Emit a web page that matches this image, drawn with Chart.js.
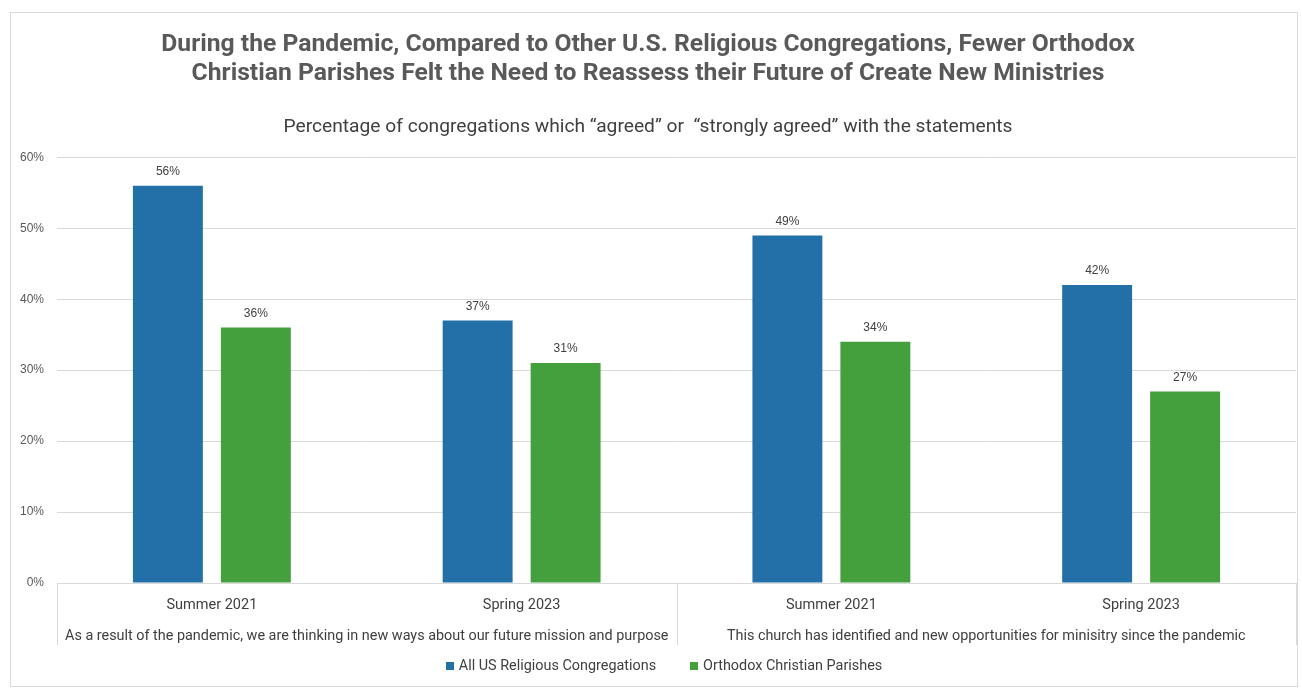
<!DOCTYPE html>
<html>
<head>
<meta charset="utf-8">
<title>Pandemic congregations chart</title>
<script src="https://cdn.jsdelivr.net/npm/chart.js@4.4.1/dist/chart.umd.min.js"></script>
<style>
  html, body { margin: 0; padding: 0; background: #fff; }
  canvas { display: block; }
</style>
</head>
<body>
<canvas id="chart" width="1302" height="689"></canvas>
<script>
const NARROW = 'Roboto, "Liberation Sans", sans-serif';
const REGULAR = '"Liberation Sans", Arial, sans-serif';

// chart data
const periods = ['Summer 2021', 'Spring 2023', 'Summer 2021', 'Spring 2023'];
const statements = [
  'As a result of the pandemic, we are thinking in new ways about our future mission and purpose',
  'This church has identified and new opportunities for minisitry since the pandemic'
];
const allUS = [56, 37, 49, 42];
const orthodox = [36, 31, 34, 27];
const yTicks = [0, 10, 20, 30, 40, 50, 60];

const titleLines = [
  'During the Pandemic, Compared to Other U.S. Religious Congregations, Fewer Orthodox',
  'Christian Parishes Felt the Need to Reassess their Future of Create New Ministries'
];
const subtitleText = 'Percentage of congregations which \u201cagreed\u201d or  \u201cstrongly agreed\u201d with the statements';

const GRID = '#d9d9d9';

// outer frame around the whole chart
const framePlugin = {
  id: 'frame',
  beforeDraw(chart) {
    const ctx = chart.ctx;
    ctx.save();
    ctx.fillStyle = '#fff';
    ctx.fillRect(0, 0, chart.width, chart.height);
    ctx.strokeStyle = GRID;
    ctx.lineWidth = 1;
    ctx.strokeRect(10.5, 12.5, 1287, 674);
    ctx.restore();
  }
};

// percentage labels above each bar
const valueLabels = {
  id: 'valueLabels',
  afterDatasetsDraw(chart) {
    const ctx = chart.ctx;
    ctx.save();
    ctx.font = '12px ' + REGULAR;
    ctx.fillStyle = '#404040';
    ctx.textAlign = 'center';
    ctx.textBaseline = 'bottom';
    chart.data.datasets.forEach((ds, i) => {
      chart.getDatasetMeta(i).data.forEach((bar, j) => {
        ctx.fillText(ds.data[j] + '%', bar.x, bar.y - 8);
      });
    });
    ctx.restore();
  }
};

// second level of the category axis: statement text and separators
const groupAxis = {
  id: 'groupAxis',
  afterDraw(chart) {
    const ctx = chart.ctx;
    const x = chart.scales.x;
    const top = chart.chartArea.bottom;
    const bottom = top + 62;
    const per = periods.length / statements.length;
    ctx.save();
    ctx.strokeStyle = GRID;
    ctx.lineWidth = 1;
    for (let g = 0; g <= statements.length; g++) {
      const px = Math.round(x.left + (x.right - x.left) * g / statements.length) + 0.5;
      ctx.beginPath();
      ctx.moveTo(px, top);
      ctx.lineTo(px, bottom);
      ctx.stroke();
    }
    ctx.font = '14.4px ' + NARROW;
    ctx.fillStyle = '#404040';
    ctx.textAlign = 'center';
    ctx.textBaseline = 'middle';
    statements.forEach((s, g) => {
      const a = x.getPixelForValue(g * per);
      const b = x.getPixelForValue(g * per + per - 1);
      ctx.fillText(s, (a + b) / 2, top + 53);
    });
    ctx.restore();
  }
};

// legend row under the axis, square swatches
const legendRow = {
  id: 'legendRow',
  afterDraw(chart) {
    const ctx = chart.ctx;
    const box = 8, gap = 5, spacing = 34, cx = 664, cy = 666;
    ctx.save();
    ctx.font = '14.4px ' + NARROW;
    ctx.textBaseline = 'middle';
    ctx.textAlign = 'left';
    const items = chart.data.datasets.map(ds => ({
      text: ds.label,
      color: ds.backgroundColor,
      w: box + gap + ctx.measureText(ds.label).width
    }));
    const total = items.reduce((s, it) => s + it.w, 0) + spacing * (items.length - 1);
    let x = cx - total / 2;
    items.forEach(it => {
      ctx.fillStyle = it.color;
      ctx.fillRect(Math.round(x), cy - box / 2, box, box);
      ctx.fillStyle = '#404040';
      ctx.fillText(it.text, x + box + gap, cy);
      x += it.w + spacing;
    });
    ctx.restore();
  }
};

new Chart(document.getElementById('chart'), {
  type: 'bar',
  data: {
    labels: periods,
    datasets: [
      {
        label: 'All US Religious Congregations',
        data: allUS,
        backgroundColor: '#2370a9',
        categoryPercentage: 0.568,
        barPercentage: 0.795
      },
      {
        label: 'Orthodox Christian Parishes',
        data: orthodox,
        backgroundColor: '#43a03c',
        categoryPercentage: 0.568,
        barPercentage: 0.795
      }
    ]
  },
  options: {
    responsive: false,
    animation: false,
    layout: { padding: { left: 0, right: 6, top: 0, bottom: 41 } },
    scales: {
      x: {
        grid: { display: false, drawTicks: false },
        border: { display: true, color: GRID },
        ticks: {
          color: '#404040',
          font: { family: NARROW, size: 14.5 },
          padding: 14,
          maxRotation: 0
        },
        afterFit(scale) { scale.height = 65; }
      },
      y: {
        min: 0,
        max: 60,
        afterBuildTicks(scale) { scale.ticks = yTicks.map(v => ({ value: v })); },
        grid: { color: GRID, drawTicks: false },
        border: { display: false },
        ticks: {
          color: '#595959',
          font: { family: REGULAR, size: 12 },
          padding: 13,
          callback: v => v + '%'
        },
        afterFit(scale) { scale.width = 57; }
      }
    },
    plugins: {
      title: {
        display: true,
        text: titleLines,
        color: '#595959',
        font: { family: NARROW, size: 24.7, weight: 'bold', lineHeight: 1.17 },
        padding: { top: 30.5, bottom: 0 }
      },
      subtitle: {
        display: true,
        text: subtitleText,
        color: '#404040',
        font: { family: NARROW, size: 19.2, lineHeight: 1.2 },
        padding: { top: 27, bottom: 19 }
      },
      legend: { display: false },
      tooltip: { enabled: false }
    }
  },
  plugins: [framePlugin, valueLabels, groupAxis, legendRow]
});
</script>
</body>
</html>
